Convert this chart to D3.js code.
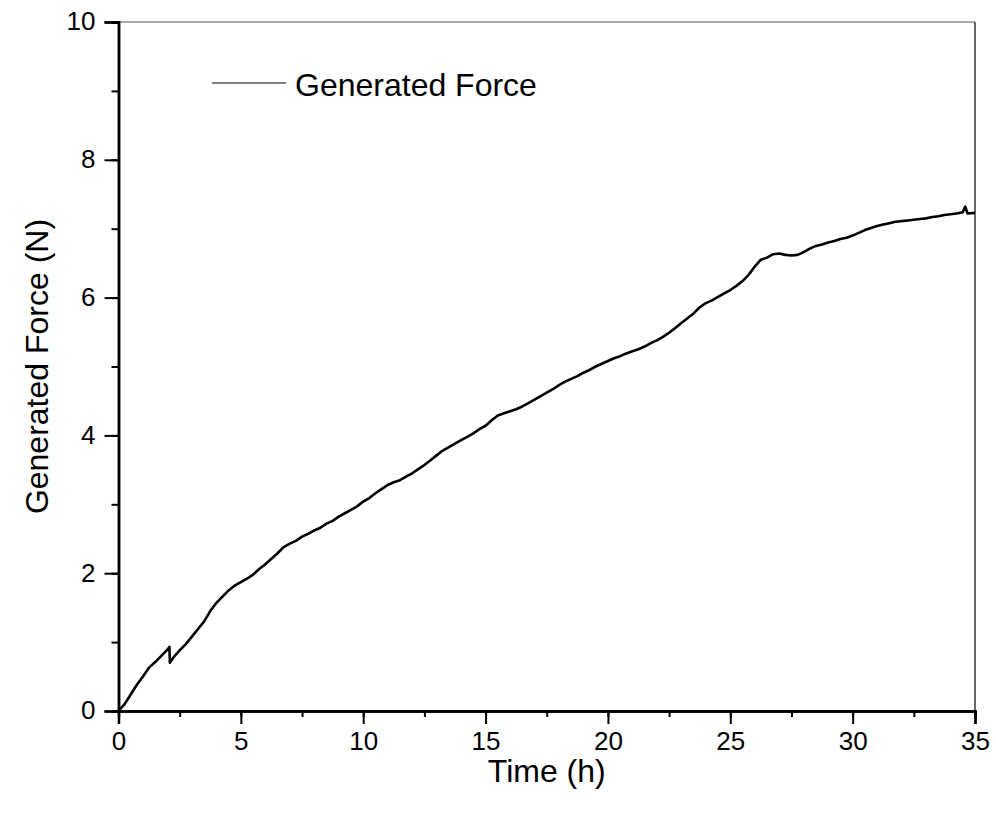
<!DOCTYPE html>
<html><head><meta charset="utf-8">
<script src="https://cdn.jsdelivr.net/npm/d3@7"></script>
<style>body{margin:0;background:#fff;}svg{display:block;font-family:"Liberation Sans",Arial,sans-serif;}</style>
</head><body>
<svg id="c" width="996" height="819"></svg>
<script>
const timeH = [0,0.25,0.5,0.75,1.0,1.25,1.5,1.75,2.0,2.08,2.1,2.25,2.5,2.75,3.0,3.25,3.5,3.75,4.0,4.25,4.5,4.75,5.0,5.25,5.5,5.75,6.0,6.25,6.5,6.75,7.0,7.25,7.5,7.75,8.0,8.25,8.5,8.75,9.0,9.25,9.5,9.75,10.0,10.25,10.5,10.75,11.0,11.25,11.5,11.75,12.0,12.25,12.5,12.75,13.0,13.25,13.5,13.75,14.0,14.25,14.5,14.75,15.0,15.25,15.5,15.75,16.0,16.25,16.5,16.75,17.0,17.25,17.5,17.75,18.0,18.25,18.5,18.75,19.0,19.25,19.5,19.75,20.0,20.25,20.5,20.75,21.0,21.25,21.5,21.75,22.0,22.25,22.5,22.75,23.0,23.25,23.5,23.75,24.0,24.25,24.5,24.75,25.0,25.25,25.5,25.75,26.0,26.25,26.5,26.75,27.0,27.25,27.5,27.75,28.0,28.25,28.5,28.75,29.0,29.25,29.5,29.75,30.0,30.25,30.5,30.75,31.0,31.25,31.5,31.75,32.0,32.25,32.5,32.75,33.0,33.25,33.5,33.75,34.0,34.25,34.5,34.6,34.7,35.0];
const forceN = [0,0.10,0.24,0.38,0.50,0.63,0.71,0.80,0.89,0.93,0.70,0.78,0.88,0.97,1.08,1.19,1.30,1.45,1.57,1.66,1.75,1.82,1.87,1.92,1.98,2.06,2.13,2.21,2.29,2.38,2.43,2.47,2.53,2.57,2.62,2.66,2.72,2.76,2.82,2.87,2.92,2.97,3.04,3.09,3.16,3.22,3.28,3.32,3.35,3.40,3.45,3.51,3.57,3.64,3.71,3.78,3.83,3.88,3.93,3.98,4.03,4.09,4.14,4.22,4.29,4.32,4.35,4.38,4.42,4.47,4.52,4.57,4.62,4.67,4.73,4.78,4.82,4.86,4.91,4.95,5.00,5.04,5.08,5.12,5.15,5.19,5.22,5.25,5.29,5.34,5.38,5.43,5.49,5.56,5.63,5.70,5.77,5.86,5.92,5.96,6.01,6.06,6.11,6.17,6.24,6.33,6.45,6.55,6.58,6.63,6.64,6.62,6.61,6.62,6.66,6.71,6.75,6.77,6.80,6.82,6.85,6.87,6.90,6.94,6.98,7.01,7.04,7.06,7.08,7.10,7.11,7.12,7.13,7.14,7.15,7.17,7.18,7.20,7.21,7.22,7.24,7.32,7.22,7.23];
const xTicks = [0,5,10,15,20,25,30,35];
const yTicks = [0,2,4,6,8,10];
const seriesName = "Generated Force";
const xTitle = "Time (h)";
const yTitle = "Generated Force (N)";

const svg = d3.select("#c");
const L = 118.5, R = 975, T = 22, B = 711;
const x = d3.scaleLinear().domain([0,35]).range([L,R]);
const y = d3.scaleLinear().domain([0,10]).range([B,T]);
const FONT = "Liberation Sans, Arial, sans-serif";

// frame top/right
svg.append("line").attr("x1",L).attr("x2",R).attr("y1",T).attr("y2",T).attr("stroke","#555").attr("stroke-width",1.2);
svg.append("line").attr("x1",R).attr("x2",R).attr("y1",T).attr("y2",B).attr("stroke","#000").attr("stroke-width",1.2);

// x axis
const xMinor = d3.range(0,35.01,2.5);
const gx = svg.append("g").attr("transform",`translate(0,${B})`)
  .call(d3.axisBottom(x).tickValues(xMinor).tickSize(6).tickFormat(""));
const gx2 = svg.append("g").attr("transform",`translate(0,${B})`)
  .call(d3.axisBottom(x).tickValues(xTicks).tickSize(13).tickPadding(8).tickFormat(d3.format("d")));
[gx,gx2].forEach(g=>{g.select(".domain").attr("stroke-width",2.5);g.selectAll(".tick line").attr("stroke-width",2);});
gx2.selectAll("text").attr("font-size",26).attr("fill","#000").attr("font-family",FONT);

// y axis
const yMinor = d3.range(0,10.01,1);
const gy = svg.append("g").attr("transform",`translate(${L},0)`)
  .call(d3.axisLeft(y).tickValues(yMinor).tickSize(7).tickFormat(""));
const gy2 = svg.append("g").attr("transform",`translate(${L},0)`)
  .call(d3.axisLeft(y).tickValues(yTicks).tickSize(14).tickPadding(9).tickFormat(d3.format("d")));
[gy,gy2].forEach(g=>{g.select(".domain").attr("stroke-width",2.5);g.selectAll(".tick line").attr("stroke-width",2);});
gy2.selectAll("text").attr("font-size",26).attr("fill","#000").attr("font-family",FONT).attr("dy","0.3em");
svg.selectAll(".domain").attr("stroke","#000");

// curve
const data = timeH.map((t,i)=>[t,forceN[i]]);
svg.append("path").datum(data)
  .attr("fill","none").attr("stroke","#000").attr("stroke-width",2.6).attr("stroke-linejoin","round")
  .attr("d", d3.line().x(d=>x(d[0])).y(d=>y(d[1])));

// legend
svg.append("line").attr("x1",212).attr("x2",286).attr("y1",83).attr("y2",83).attr("stroke","#000").attr("stroke-width",1.2);
svg.append("text").attr("x",295).attr("y",96).attr("font-size",32).attr("fill","#000").text(seriesName);

// titles
svg.append("text").attr("x",(L+R)/2).attr("y",782).attr("text-anchor","middle").attr("font-size",32).text(xTitle);
svg.append("text").attr("transform",`translate(48,${(T+B)/2}) rotate(-90)`).attr("text-anchor","middle").attr("font-size",32).text(yTitle);
</script>
</body></html>
